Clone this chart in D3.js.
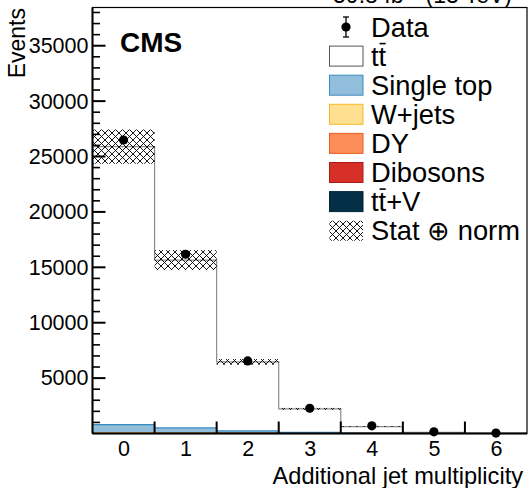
<!DOCTYPE html>
<html>
<head>
  <meta charset="utf-8">
  <script src="https://d3js.org/d3.v7.min.js"></script>
  <style>
    body { margin: 0; background: #fff; }
    svg { display: block; font-family: "Liberation Sans", Arial, sans-serif; }
  </style>
</head>
<body>
  <svg width="528" height="488"></svg>
  <script>
    // bins: additional jet multiplicity 0..6
    const bins = [0, 1, 2, 3, 4, 5, 6];
    const yTicks = [5000, 10000, 15000, 20000, 25000, 30000, 35000];

    // stacked backgrounds (bottom -> top), then ttbar
    const ttv = [10, 8, 6, 4, 3, 2, 1];
    const dibosons = [8, 5, 3, 1, 0.5, 0.2, 0.1];
    const dy = [15, 8, 4, 2, 1, 0.3, 0.1];
    const wjets = [20, 12, 6, 3, 1, 0.5, 0.2];
    const singleTop = [750, 480, 210, 90, 30, 10, 3];
    const ttbar = [25090, 15140, 6240, 2120, 590, 90, 20];

    const data = [26490, 16180, 6550, 2280, 690, 150, 40];
    const unc = [1550, 905, 255, 90, 30, 8, 3];   // stat (+) norm

    const svg = d3.select("svg");
    const m = { left: 92.5, right: 527, top: 7.5, bottom: 433.5 };

    const x = d3.scaleLinear().domain([-0.5, 6.5]).range([m.left, m.right]);
    const y = d3.scaleLinear().domain([0, 38450]).range([m.bottom, m.top]);

    // hatch pattern
    const defs = svg.append("defs");
    const pw = 7;
    const pat = defs.append("pattern")
      .attr("id", "hatch").attr("patternUnits", "userSpaceOnUse")
      .attr("width", pw).attr("height", pw);
    pat.append("path")
      .attr("d", `M0,0L${pw},${pw}M${pw},0L0,${pw}M-1,${pw - 1}L1,${pw + 1}M${pw - 1},-1L${pw + 1},1`)
      .attr("stroke", "#000").attr("stroke-width", 0.9).attr("fill", "none");

    const procs = [
      { name: "tt̄+V", vals: ttv, fill: "#033047", stroke: "#022538" },
      { name: "Dibosons", vals: dibosons, fill: "#d73027", stroke: "#a81d18" },
      { name: "DY", vals: dy, fill: "#fc8d59", stroke: "#e8601e" },
      { name: "W+jets", vals: wjets, fill: "#fee090", stroke: "#f5b82a" },
      { name: "Single top", vals: singleTop, fill: "#91bfdb", stroke: "#3b8bc2" },
      { name: "ttbar", vals: ttbar, fill: "#ffffff", stroke: "#8c8c8c" }
    ];

    // build stacks per bin
    const base = bins.map(() => 0);
    const gHist = svg.append("g");
    procs.forEach(p => {
      p.top = [];
      bins.forEach((b, i) => {
        const y0 = base[i], y1 = base[i] + p.vals[i];
        base[i] = y1;
        p.top[i] = y1;
        gHist.append("rect")
          .attr("x", x(b - 0.5)).attr("width", x(b + 0.5) - x(b - 0.5))
          .attr("y", y(y1)).attr("height", Math.max(0, y(y0) - y(y1)))
          .attr("fill", p.fill);
      });
    });
    // step outlines
    procs.forEach(p => {
      let d = "";
      bins.forEach((b, i) => {
        d += (i === 0 ? "M" : "L") + x(b - 0.5) + "," + y(p.top[i]) + "L" + x(b + 0.5) + "," + y(p.top[i]);
      });
      gHist.append("path").attr("d", d).attr("fill", "none")
        .attr("stroke", p.stroke).attr("stroke-width", 1.2);
    });

    // uncertainty band
    const total = base;
    svg.append("g").selectAll("rect").data(bins).join("rect")
      .attr("x", b => x(b - 0.5)).attr("width", b => x(b + 0.5) - x(b - 0.5))
      .attr("y", (b, i) => y(total[i] + unc[i]))
      .attr("height", (b, i) => y(total[i] - unc[i]) - y(total[i] + unc[i]))
      .attr("fill", "url(#hatch)");

    // data points
    const gData = svg.append("g");
    bins.forEach((b, i) => {
      const e = Math.sqrt(data[i]);
      gData.append("line").attr("x1", x(b)).attr("x2", x(b))
        .attr("y1", y(data[i] + e)).attr("y2", y(data[i] - e))
        .attr("stroke", "#000").attr("stroke-width", 1.2);
      gData.append("circle").attr("cx", x(b)).attr("cy", y(data[i])).attr("r", 4.6).attr("fill", "#000");
    });

    // frame
    svg.append("rect").attr("x", m.left).attr("y", m.top)
      .attr("width", m.right - m.left).attr("height", m.bottom - m.top)
      .attr("fill", "none").attr("stroke", "#000").attr("stroke-width", 1.2);

    // y axis
    const yAxis = svg.append("g").attr("transform", `translate(${m.left},0)`)
      .call(d3.axisLeft(y).tickValues(yTicks).tickSize(0).tickPadding(4).tickFormat(d3.format("d")));
    yAxis.select(".domain").remove();
    yAxis.selectAll("text").attr("font-size", 21.5).attr("fill", "#000")
      .attr("font-family", "Liberation Sans, Arial, sans-serif");
    const minor = d3.range(1000, 38001, 1000);
    svg.append("g").selectAll("line").data(minor).join("line")
      .attr("x1", m.left).attr("x2", d => m.left + (d % 5000 === 0 ? 13 : 7.5))
      .attr("y1", d => y(d)).attr("y2", d => y(d))
      .attr("stroke", "#000").attr("stroke-width", d => d % 5000 === 0 ? 2 : 1.6);

    // x axis: labels at bin centres, ticks at bin edges
    const xAxis = svg.append("g").attr("transform", `translate(0,${m.bottom})`)
      .call(d3.axisBottom(x).tickValues(bins).tickSize(0).tickPadding(7).tickFormat(d3.format("d")));
    xAxis.select(".domain").remove();
    xAxis.selectAll("text").attr("font-size", 21.5).attr("fill", "#000")
      .attr("font-family", "Liberation Sans, Arial, sans-serif");
    svg.append("g").selectAll("line").data(d3.range(0.5, 6, 1)).join("line")
      .attr("x1", d => x(d)).attr("x2", d => x(d))
      .attr("y1", m.bottom).attr("y2", m.bottom - 12)
      .attr("stroke", "#000").attr("stroke-width", 2);
    svg.append("line").attr("x1", m.left).attr("x2", m.right)
      .attr("y1", m.bottom).attr("y2", m.bottom).attr("stroke", "#000").attr("stroke-width", 2);
    svg.append("line").attr("x1", m.left).attr("x2", m.left)
      .attr("y1", m.top).attr("y2", m.bottom).attr("stroke", "#000").attr("stroke-width", 2);

    // titles
    svg.append("text").attr("x", 523).attr("y", 484).attr("text-anchor", "end")
      .attr("font-size", 23.6).text("Additional jet multiplicity");
    svg.append("text").attr("transform", "translate(25,8) rotate(-90)").attr("text-anchor", "end")
      .attr("font-size", 23).text("Events");
    svg.append("text").attr("x", 120).attr("y", 52).attr("font-size", 28).attr("font-weight", "bold")
      .text("CMS");
    svg.append("text").attr("x", 512).attr("y", 3).attr("text-anchor", "end").attr("font-size", 23)
      .text("59.8 fb⁻¹ (13 TeV)");

    // legend
    const legend = [
      { name: "Data", kind: "data" },
      { name: "tt", kind: "box", fill: "#ffffff", stroke: "#555", bar: true },
      { name: "Single top", kind: "box", fill: "#91bfdb", stroke: "#3b8bc2" },
      { name: "W+jets", kind: "box", fill: "#fee090", stroke: "#f5b82a" },
      { name: "DY", kind: "box", fill: "#fc8d59", stroke: "#e8601e" },
      { name: "Dibosons", kind: "box", fill: "#d73027", stroke: "#a81d18" },
      { name: "tt+V", kind: "box", fill: "#033047", stroke: "#022538", bar: true },
      { name: "Stat \u2295 norm", kind: "hatch" }
    ];
    const lg = svg.append("g");
    legend.forEach((d, i) => {
      const cy = 27 + i * 29.1;
      if (d.kind === "data") {
        lg.append("line").attr("x1", 346).attr("x2", 346).attr("y1", cy - 10).attr("y2", cy + 10)
          .attr("stroke", "#000").attr("stroke-width", 1.3);
        [cy - 10, cy + 10].forEach(v => lg.append("line").attr("x1", 343).attr("x2", 349)
          .attr("y1", v).attr("y2", v).attr("stroke", "#000").attr("stroke-width", 1.3));
        lg.append("circle").attr("cx", 346).attr("cy", cy).attr("r", 4.6).attr("fill", "#000");
      } else if (d.kind === "box") {
        lg.append("rect").attr("x", 329.5).attr("y", cy - 10).attr("width", 33.5).attr("height", 20)
          .attr("fill", d.fill).attr("stroke", d.stroke).attr("stroke-width", 1);
      } else {
        lg.append("rect").attr("x", 329.5).attr("y", cy - 10).attr("width", 33.5).attr("height", 20)
          .attr("fill", "url(#hatch)");
      }
      const t = lg.append("text").attr("x", 371).attr("y", cy + 9.5).attr("font-size", 27.3).text(d.name);
      if (d.bar) {
        const n = t.node();
        const x0 = 371 + n.getSubStringLength(0, 1);
        const w = n.getSubStringLength(1, 1);
        lg.append("line").attr("x1", x0 + 1).attr("x2", x0 + w - 0.5)
          .attr("y1", cy - 12.5).attr("y2", cy - 12.5).attr("stroke", "#000").attr("stroke-width", 1.6);
      }
    });
  </script>
</body>
</html>
